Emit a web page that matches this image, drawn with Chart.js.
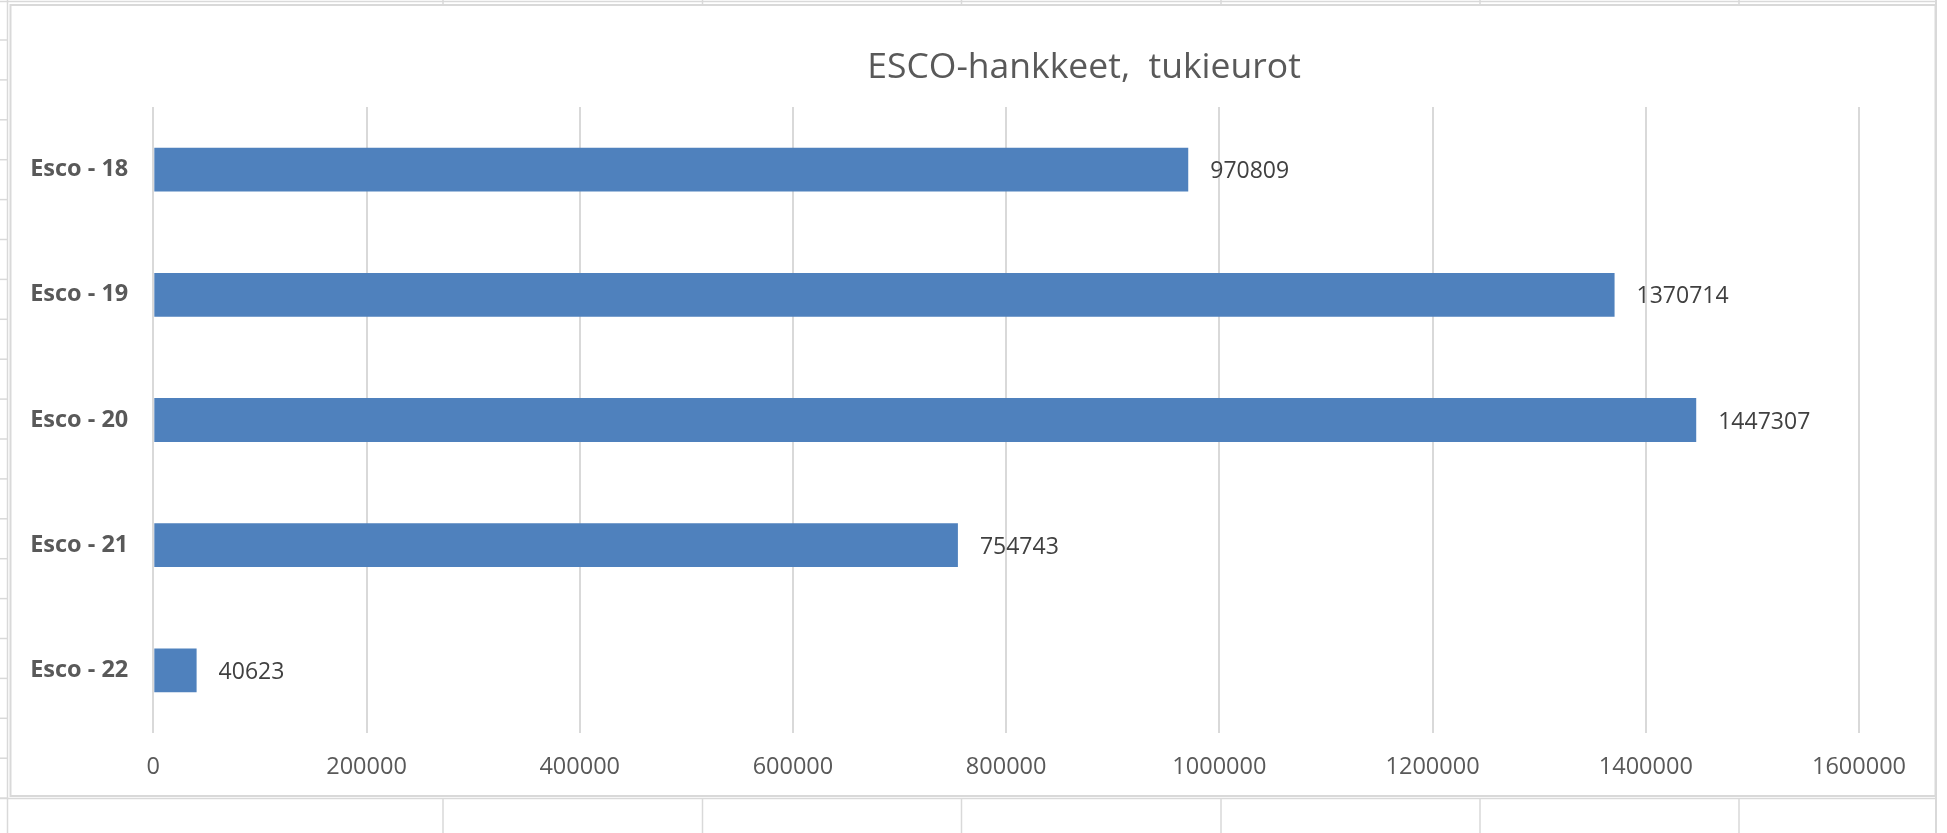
<!DOCTYPE html>
<html><head><meta charset="utf-8">
<script src="https://cdn.jsdelivr.net/npm/chart.js@4.4.1/dist/chart.umd.min.js"></script>
<style>
html,body{margin:0;padding:0;background:#fff;width:1947px;height:833px;overflow:hidden}
#bg{position:absolute;left:0;top:0}
#c{position:absolute;left:0;top:0}
</style></head><body>
<svg id="bg" width="1947" height="833" xmlns="http://www.w3.org/2000/svg"></svg>
<canvas id="c" width="1947" height="833"></canvas>
<script>
const categories = ['Esco - 18', 'Esco - 19', 'Esco - 20', 'Esco - 21', 'Esco - 22'];
const values = [970809, 1370714, 1447307, 754743, 40623];
const tickLabels = ['0', '200000', '400000', '600000', '800000', '1000000', '1200000', '1400000', '1600000'];
const chartTitle = 'ESCO-hankkeet,  tukieurot';

// spreadsheet background (decoration)
(function(){
  const svg = document.getElementById('bg');
  const ns = 'http://www.w3.org/2000/svg';
  const line = (x1,y1,x2,y2,w) => {
    const l = document.createElementNS(ns,'line');
    l.setAttribute('x1',x1);l.setAttribute('y1',y1);l.setAttribute('x2',x2);l.setAttribute('y2',y2);
    l.setAttribute('stroke','#d9d9d9');l.setAttribute('stroke-width',w||1.5);
    svg.appendChild(l);
  };
  line(0,1.5,1937,1.5);
  line(7.5,0,7.5,833);
  for(let k=0;k<20;k++){ const y=40+39.9*k; line(0,y,8,y); }
  line(0,798.5,1937,798.5);
  [443,702.5,961.5,1221,1480,1739].forEach(x=>{ line(x,798,x,833); line(x,0,x,5); });
  line(1936,0,1936,833,2);
  const r = document.createElementNS(ns,'rect');
  r.setAttribute('x',10.5);r.setAttribute('y',5);r.setAttribute('width',1925);r.setAttribute('height',791);
  r.setAttribute('fill','#fff');r.setAttribute('stroke','#d9d9d9');r.setAttribute('stroke-width',2);
  svg.appendChild(r);
})();

const valueLabels = {
  id: 'valueLabels',
  afterDatasetsDraw(chart) {
    const ctx = chart.ctx;
    const meta = chart.getDatasetMeta(0);
    ctx.save();
    ctx.font = '23px "Open Sans"';
    ctx.fillStyle = '#404040';
    ctx.textAlign = 'left';
    ctx.textBaseline = 'middle';
    meta.data.forEach((bar, i) => {
      ctx.fillText(String(values[i]), bar.x + 22, bar.y + 2);
    });
    ctx.restore();
  }
};

const excelTitle = {
  id: 'excelTitle',
  afterDraw(chart) {
    const ctx = chart.ctx;
    ctx.save();
    ctx.font = '35.5px "Open Sans"';
    ctx.fillStyle = '#595959';
    ctx.textAlign = 'center';
    ctx.textBaseline = 'alphabetic';
    ctx.fillText(chartTitle, 1084, 78);
    ctx.restore();
  }
};

new Chart(document.getElementById('c'), {
  type: 'bar',
  data: {
    labels: categories,
    datasets: [{
      data: values,
      backgroundColor: '#4f81bd',
      borderWidth: 0,
      barPercentage: 0.35,
      categoryPercentage: 1.0
    }]
  },
  plugins: [valueLabels, excelTitle],
  options: {
    indexAxis: 'y',
    responsive: false,
    animation: false,
    devicePixelRatio: 1,
    layout: { padding: { top: 107, left: 0, right: 88, bottom: 0 } },
    plugins: {
      legend: { display: false },
      tooltip: { enabled: false },
      title: { display: false }
    },
    scales: {
      x: {
        min: 0,
        max: 1600000,
        border: { display: false },
        grid: { color: '#d9d9d9', lineWidth: 2, drawTicks: false },
        ticks: {
          stepSize: 200000,
          padding: 20,
          color: '#595959',
          font: { family: 'Open Sans', size: 23.5 },
          callback: (v, i) => tickLabels[i]
        },
        afterFit: s => { s.height = 100; }
      },
      y: {
        border: { display: false },
        grid: { display: false, drawTicks: false },
        ticks: {
          padding: 25,
          color: '#595959',
          font: { family: 'Open Sans', size: 23.5, weight: 'bold' }
        },
        afterFit: s => { s.width = 153.3; }
      }
    }
  }
});
</script>
</body></html>
